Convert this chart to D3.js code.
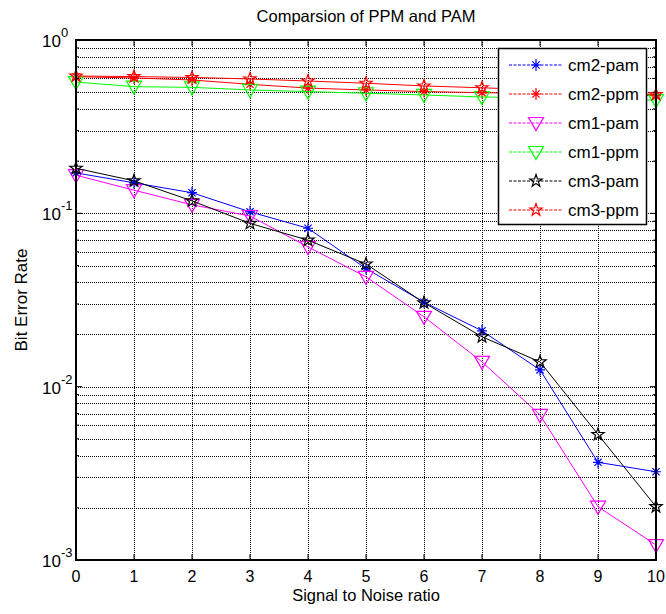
<!DOCTYPE html>
<html>
<head>
<meta charset="utf-8">
<script src="https://cdn.jsdelivr.net/npm/d3@7"></script>
<style>
  body { margin: 0; background: #fff; }
  svg { font-family: "Liberation Sans", Arial, sans-serif; }
</style>
</head>
<body>
<div id="chart"></div>
<script>
// data
const snr = [0, 1, 2, 3, 4, 5, 6, 7, 8, 9, 10]
const cm2Pam = [0.171, 0.150, 0.1315, 0.102, 0.082, 0.048, 0.0307, 0.021, 0.0125, 0.00366, 0.00323]
const cm2Ppm = [0.614, 0.604, 0.588, 0.555, 0.528, 0.515, 0.504, 0.497, 0.490, 0.484, 0.478]
const cm1Pam = [0.166, 0.136, 0.112, 0.0965, 0.064, 0.043, 0.0253, 0.0139, 0.00687, 0.00203, 0.00122]
const cm1Ppm = [0.572, 0.538, 0.533, 0.515, 0.504, 0.493, 0.482, 0.469, 0.462, 0.456, 0.450]
const cm3Pam = [0.182, 0.154, 0.118, 0.0875, 0.070, 0.051, 0.0305, 0.0194, 0.0139, 0.0053, 0.00203]
const cm3Ppm = [0.620, 0.615, 0.608, 0.596, 0.580, 0.563, 0.543, 0.530, 0.515, 0.500, 0.485]

const seriesNames = ["cm2-pam", "cm2-ppm", "cm1-pam", "cm1-ppm", "cm3-pam", "cm3-ppm"]
const seriesValues = [cm2Pam, cm2Ppm, cm1Pam, cm1Ppm, cm3Pam, cm3Ppm]
const seriesColors = ["#0000ff", "#ff0000", "#ff00ff", "#00ff00", "#000000", "#ff0000"]
const seriesMarkers = ["asterisk", "asterisk", "triangle", "triangle", "star", "star"]

const xTicks = [0, 1, 2, 3, 4, 5, 6, 7, 8, 9, 10]
const yDecades = [-3, -2, -1, 0]

const width = 666, height = 614
const margin = {left: 76, right: 10, top: 40, bottom: 54}

const svg = d3.select("#chart").append("svg")
    .attr("width", width)
    .attr("height", height)

const x = d3.scaleLinear().domain([0, 10]).range([margin.left, width - margin.right])
const y = d3.scaleLog().domain([1e-3, 1]).range([height - margin.bottom, margin.top])

const x0 = x.range()[0], x1 = x.range()[1]
const yTop = y.range()[1], yBot = y.range()[0]

// minor values of the log axis (2..9 in every decade)
let minorVals = []
yDecades.slice(0, -1).forEach(d => {
    for (let k = 2; k <= 9; k++) minorVals.push(k * Math.pow(10, d))
})
const majorVals = yDecades.map(d => Math.pow(10, d))

// grid
const grid = svg.append("g")
    .attr("stroke", "#000")
    .attr("stroke-width", 1)
    .attr("stroke-dasharray", "1,1")

grid.selectAll("line.vg").data(xTicks.slice(1, -1)).join("line")
    .attr("x1", d => x(d) + 0.5).attr("x2", d => x(d) + 0.5)
    .attr("y1", yTop).attr("y2", yBot)

grid.selectAll("line.hg").data(minorVals.concat(majorVals.slice(1, -1))).join("line")
    .attr("x1", x0).attr("x2", x1)
    .attr("y1", d => Math.round(y(d)) + 0.5).attr("y2", d => Math.round(y(d)) + 0.5)

// markers
function markerPath(type) {
    if (type === "asterisk") {
        return "M0,-6V6M-5,0H5M-3.6,-3.6L3.6,3.6M-3.6,3.6L3.6,-3.6"
    }
    if (type === "triangle") {
        return "M-7.5,-5.5H7.5L0,7.5Z"
    }
    // pentagram
    let p = []
    for (let i = 0; i < 10; i++) {
        let r = i % 2 === 0 ? 6.5 : 2.6
        let a = -Math.PI / 2 + i * Math.PI / 5
        p.push([r * Math.cos(a), r * Math.sin(a)])
    }
    return "M" + p.map(q => q[0].toFixed(2) + "," + q[1].toFixed(2)).join("L") + "Z"
}

const line = d3.line().x((d, i) => x(snr[i])).y(d => y(d))

seriesValues.forEach((vals, s) => {
    let g = svg.append("g")
    g.append("path")
        .attr("d", line(vals))
        .attr("fill", "none")
        .attr("stroke", seriesColors[s])
        .attr("stroke-width", 1)

    g.selectAll("path.m").data(vals).join("path")
        .attr("class", "m")
        .attr("transform", (d, i) => `translate(${x(snr[i])},${y(d)})`)
        .attr("d", markerPath(seriesMarkers[s]))
        .attr("fill", "none")
        .attr("stroke", seriesColors[s])
        .attr("stroke-width", 1.2)
})

// axes box and ticks
const axes = svg.append("g").attr("stroke", "#000")

axes.append("rect")
    .attr("x", x0).attr("y", yTop)
    .attr("width", x1 - x0).attr("height", yBot - yTop)
    .attr("fill", "none")
    .attr("stroke-width", 2)

xTicks.forEach(t => {
    axes.append("line").attr("x1", x(t)).attr("x2", x(t)).attr("y1", yBot).attr("y2", yBot - 6)
    axes.append("line").attr("x1", x(t)).attr("x2", x(t)).attr("y1", yTop).attr("y2", yTop + 6)
})
majorVals.forEach(v => {
    axes.append("line").attr("x1", x0).attr("x2", x0 + 6).attr("y1", y(v)).attr("y2", y(v))
    axes.append("line").attr("x1", x1).attr("x2", x1 - 6).attr("y1", y(v)).attr("y2", y(v))
})
minorVals.forEach(v => {
    axes.append("line").attr("x1", x0).attr("x2", x0 + 3).attr("y1", y(v)).attr("y2", y(v))
    axes.append("line").attr("x1", x1).attr("x2", x1 - 3).attr("y1", y(v)).attr("y2", y(v))
})

// tick labels
svg.append("g").selectAll("text").data(xTicks).join("text")
    .attr("x", d => x(d))
    .attr("y", yBot + 22)
    .attr("text-anchor", "middle")
    .attr("font-size", 16)
    .text(d => d)

let yl = svg.append("g").selectAll("text").data(yDecades).join("text")
    .attr("x", x0 - 34)
    .attr("y", d => y(Math.pow(10, d)) + 7)
    .attr("font-size", 17)
yl.append("tspan").text("10")
yl.append("tspan").attr("dy", -10).attr("font-size", 13).text(d => d)

// titles
svg.append("text")
    .attr("x", (x0 + x1) / 2)
    .attr("y", 22)
    .attr("text-anchor", "middle")
    .attr("font-size", 16.5)
    .text("Comparsion of PPM and PAM")

svg.append("text")
    .attr("x", (x0 + x1) / 2)
    .attr("y", 601)
    .attr("text-anchor", "middle")
    .attr("font-size", 16.5)
    .text("Signal to Noise ratio")

svg.append("text")
    .attr("transform", `translate(27,${(yTop + yBot) / 2}) rotate(-90)`)
    .attr("text-anchor", "middle")
    .attr("font-size", 17)
    .text("Bit Error Rate")

// legend
const legend = svg.append("g")
legend.append("rect")
    .attr("x", 498.5).attr("y", 48.5)
    .attr("width", 148).attr("height", 176)
    .attr("fill", "#fff")
    .attr("stroke", "#000")
    .attr("stroke-width", 1.5)

seriesNames.forEach((name, s) => {
    let ly = 65 + s * 29
    legend.append("line")
        .attr("x1", 509).attr("x2", 563)
        .attr("y1", ly).attr("y2", ly)
        .attr("stroke", seriesColors[s])
        .attr("stroke-dasharray", "3,1.5")
    legend.append("path")
        .attr("transform", `translate(536,${ly})`)
        .attr("d", markerPath(seriesMarkers[s]))
        .attr("fill", "none")
        .attr("stroke", seriesColors[s])
        .attr("stroke-width", 1.2)
    legend.append("text")
        .attr("x", 568).attr("y", ly + 6)
        .attr("font-size", 17)
        .text(name)
})
</script>
</body>
</html>
